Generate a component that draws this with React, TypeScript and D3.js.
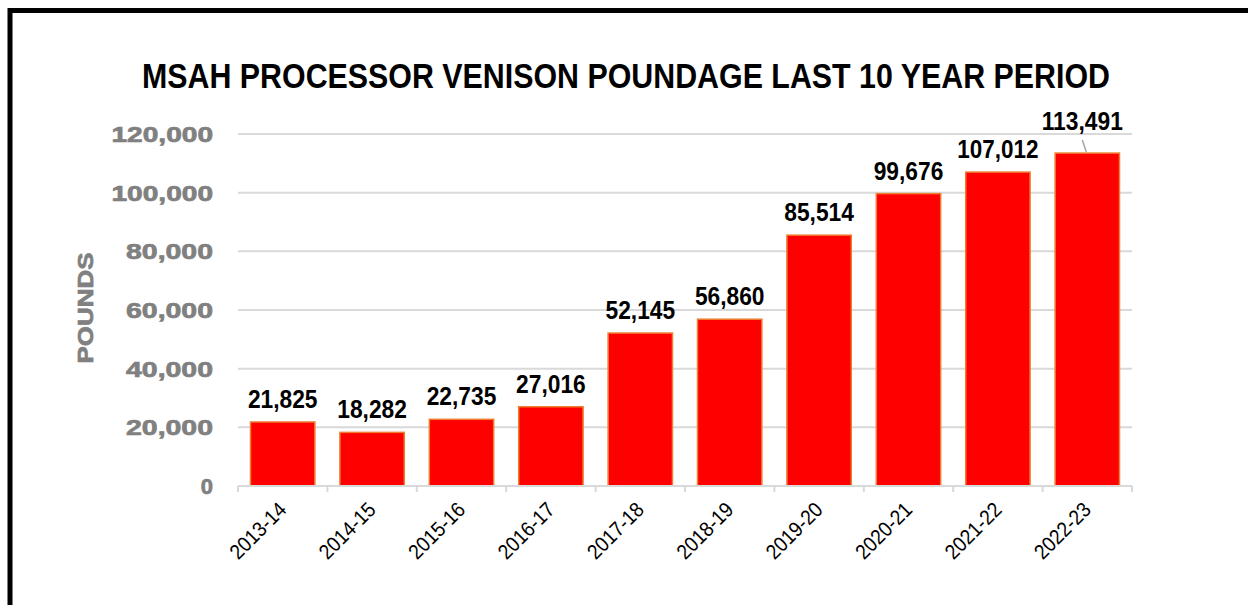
import React from "react";
import { scaleBand, scaleLinear, format } from "d3";

const seasons = [
  "2013-14", "2014-15", "2015-16", "2016-17", "2017-18",
  "2018-19", "2019-20", "2020-21", "2021-22", "2022-23",
];
const pounds = [21825, 18282, 22735, 27016, 52145, 56860, 85514, 99676, 107012, 113491];
const yTicks = [0, 20000, 40000, 60000, 80000, 100000, 120000];

const W = 1248;
const H = 605;
const plot = { left: 238, right: 1132, top: 134, bottom: 486 };
const fmt = format(",");
const font = "'Liberation Sans', Arial, sans-serif";

const App = () => {
  const x = scaleBand()
    .domain(seasons)
    .range([plot.left, plot.right])
    .paddingInner(0.28)
    .paddingOuter(0.14);

  const y = scaleLinear()
    .domain([0, 120000])
    .range([plot.bottom, plot.top]);

  const step = x.step();
  const boundaries = seasons.map((s) => x(s)! - (step - x.bandwidth()) / 2);
  boundaries.push(plot.right);

  return (
    <svg
      width={W}
      height={H}
      style={{ position: "absolute", left: 0, top: 0, background: "#fff" }}
      fontFamily={font}
    >
      <rect x={10} y={10.5} width={1400} height={800} fill="none" stroke="#000" strokeWidth={5} />

      <text
        x={626}
        y={88}
        textAnchor="middle"
        fontSize={35}
        fontWeight="bold"
        textLength={968}
        lengthAdjust="spacingAndGlyphs"
      >
        MSAH PROCESSOR VENISON POUNDAGE LAST 10 YEAR PERIOD
      </text>

      {yTicks.map((t) => {
        const label = fmt(t);
        return (
          <g key={t}>
            {t > 0 && (
              <line x1={plot.left} x2={plot.right} y1={y(t)} y2={y(t)} stroke="#d9d9d9" strokeWidth={2} />
            )}
            <text
              x={213}
              y={y(t)}
              dy="0.36em"
              textAnchor="end"
              fontSize={22}
              fontWeight="bold"
              fill="#808080"
              stroke="#808080"
              strokeWidth={0.7}
              textLength={label.length > 1 ? label.length * 14.5 : undefined}
              lengthAdjust="spacingAndGlyphs"
            >
              {label}
            </text>
          </g>
        );
      })}

      <text
        transform="translate(93,308) rotate(-90)"
        textAnchor="middle"
        fontSize={22}
        fontWeight="bold"
        fill="#808080"
        stroke="#808080"
        strokeWidth={0.7}
        textLength={111}
        lengthAdjust="spacingAndGlyphs"
      >
        POUNDS
      </text>

      {seasons.map((s, i) => {
        const v = pounds[i];
        const bx = x(s)!;
        const cx = bx + x.bandwidth() / 2;
        const top = y(v);
        const last = i === seasons.length - 1;
        return (
          <g key={s}>
            <rect
              x={bx}
              y={top}
              width={x.bandwidth()}
              height={plot.bottom - top}
              fill="#ff0000"
              stroke="#ed7d31"
              strokeWidth={1.5}
            />
            {last && (
              <line x1={cx - 5} y1={top - 13} x2={cx - 1} y2={top - 1} stroke="#a6a6a6" strokeWidth={1.5} />
            )}
            <text
              x={last ? cx - 5 : cx}
              y={last ? top - 23 : top - 14}
              textAnchor="middle"
              fontSize={26}
              fontWeight="bold"
              textLength={fmt(v).length * 11.6}
              lengthAdjust="spacingAndGlyphs"
            >
              {fmt(v)}
            </text>
            <text
              transform={`translate(${cx + 5},${plot.bottom + 25}) rotate(-45)`}
              textAnchor="end"
              fontSize={21}
              fill="#000"
              textLength={70}
              lengthAdjust="spacingAndGlyphs"
            >
              {s}
            </text>
          </g>
        );
      })}

      <line x1={plot.left} x2={plot.right} y1={plot.bottom} y2={plot.bottom} stroke="#d9d9d9" strokeWidth={2} />
      {boundaries.map((b, i) => (
        <line key={i} x1={b} x2={b} y1={plot.bottom} y2={plot.bottom + 6} stroke="#d9d9d9" strokeWidth={2} />
      ))}
    </svg>
  );
};

export default App;
